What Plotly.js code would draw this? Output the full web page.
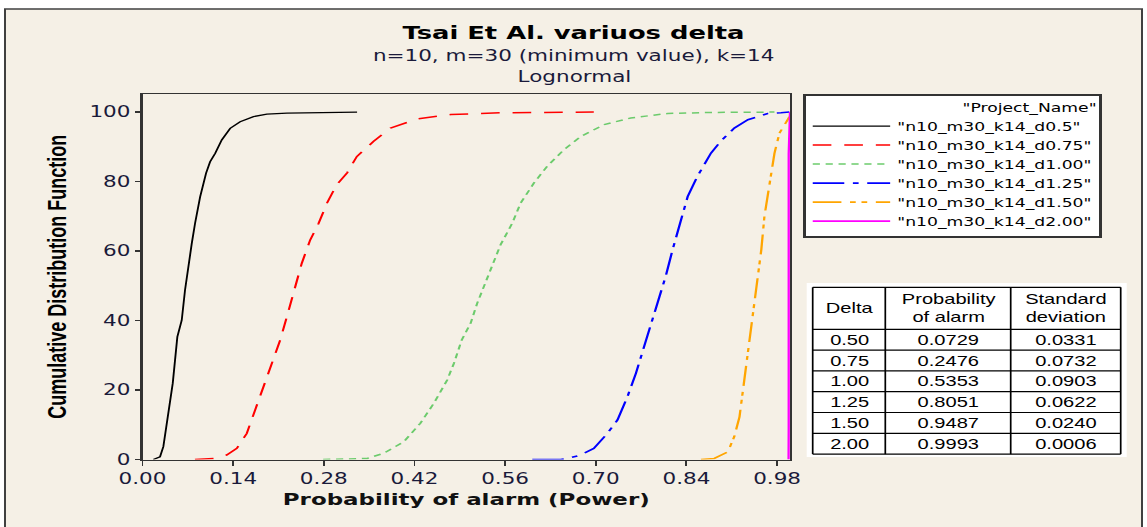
<!DOCTYPE html>
<html>
<head>
<meta charset="utf-8">
<script src="https://cdn.plot.ly/plotly-3.0.1.min.js"></script>
<style>
  html, body { margin: 0; padding: 0; background: #ffffff; overflow: hidden; }
  #wrap { width: 1147px; height: 527px; overflow: hidden; }
  #chart { width: 800px; height: 527px; transform: scaleX(1.43375); transform-origin: 0 0; }
</style>
</head>
<body>
<div id="wrap"><div id="chart"></div></div>
<script>
// ---- data ----
const seriesNames = ['"n10_m30_k14_d0.5"', '"n10_m30_k14_d0.75"', '"n10_m30_k14_d1.00"',
                     '"n10_m30_k14_d1.25"', '"n10_m30_k14_d1.50"', '"n10_m30_k14_d2.00"'];

const d050_x = [0.0167, 0.0271, 0.0322, 0.0399, 0.0467, 0.0538, 0.0606, 0.0657, 0.0709, 0.0761, 0.0812, 0.0890, 0.0982, 0.1044, 0.1121, 0.1225, 0.1354, 0.1508, 0.1714, 0.1921, 0.2231, 0.3314];
const d050_y = [0, 0.8, 3.7, 13.3, 21.9, 35.3, 40.1, 48.8, 56.5, 62.2, 68.0, 75.6, 82.4, 85.7, 88.1, 92.0, 95.3, 97.2, 98.7, 99.4, 99.7, 100];

const d075_x = [0.081, 0.1095, 0.130, 0.1457, 0.161, 0.174, 0.187, 0.200, 0.2127, 0.223, 0.236, 0.246, 0.259, 0.272, 0.285, 0.300, 0.316, 0.331, 0.357, 0.383, 0.424, 0.476, 0.553, 0.697];
const d075_y = [0, 0.3, 1.3, 3.2, 7.5, 14.3, 21.0, 27.7, 34.4, 41.1, 49.8, 56.5, 63.2, 68.0, 73.8, 79.1, 82.5, 87.2, 91.6, 95.4, 98.0, 99.3, 99.8, 100];

const d100_x = [0.279, 0.347, 0.3725, 0.4035, 0.429, 0.450, 0.4706, 0.481, 0.493, 0.5067, 0.517, 0.5325, 0.553, 0.571, 0.584, 0.6046, 0.625, 0.651, 0.677, 0.713, 0.754, 0.811, 0.883, 0.976];
const d100_y = [0, 0.3, 1.8, 5.1, 10.4, 16.2, 22.9, 27.7, 34.4, 39.2, 45.0, 52.0, 61.8, 68.0, 73.8, 79.6, 84.4, 89.2, 93.0, 96.4, 98.3, 99.6, 99.9, 100];

const d125_x = [0.602, 0.646, 0.656, 0.677, 0.697, 0.718, 0.7336, 0.749, 0.762, 0.775, 0.785, 0.7955, 0.808, 0.8187, 0.8316, 0.842, 0.857, 0.878, 0.893, 0.914, 0.935, 0.9656, 0.986, 0.999];
const d125_y = [0, 0, 0.3, 1.3, 3.2, 7.5, 11.4, 18.1, 24.8, 32.5, 39.2, 45.0, 52.7, 60.4, 69.0, 75.7, 81.5, 88.2, 91.6, 95.4, 97.8, 99.6, 99.8, 100];

const d150_x = [0.8625, 0.883, 0.904, 0.914, 0.922, 0.929, 0.935, 0.940, 0.945, 0.950, 0.9557, 0.9605, 0.9656, 0.971, 0.976, 0.9836, 0.994, 0.999];
const d150_y = [0, 0.3, 2.2, 6.6, 12.3, 21.9, 31.5, 37.3, 45.0, 51.7, 60.4, 70.0, 75.7, 82.4, 88.1, 93.9, 97.3, 98.6];

const d200_x = [0.9978, 0.998, 0.998, 1.0];
const d200_y = [0, 9, 88, 100];

// summary table
const tableDelta = [0.50, 0.75, 1.00, 1.25, 1.50, 2.00];
const tableProb  = [0.0729, 0.2476, 0.5353, 0.8051, 0.9487, 0.9993];
const tableSD    = [0.0331, 0.0732, 0.0903, 0.0622, 0.0240, 0.0006];
const tableHeader = ['Delta', 'Probability<br>of alarm', 'Standard<br>deviation'];

const xTicks = [0.00, 0.14, 0.28, 0.42, 0.56, 0.70, 0.84, 0.98];
const yTicks = [0, 20, 40, 60, 80, 100];

// ---- styling ----
const colors = ['#000000', '#FF0000', '#6CCB6C', '#0000FF', '#FFA500', '#FF00FF'];
const dashes = ['solid', '13px,9px', '5px,4px', '22px,6px,4px,6px', '20px,6px,4px,4px,4px,6px', 'solid'];
const widths = [1.3, 1.5, 1.5, 1.6, 1.6, 1.6];
const xs = [d050_x, d075_x, d100_x, d125_x, d150_x, d200_x];
const ys = [d050_y, d075_y, d100_y, d125_y, d150_y, d200_y];

const W = 1147, H = 527;
const px = v => v / W;          // horizontal pixel -> paper fraction
const py = v => 1 - v / H;      // vertical pixel -> paper fraction

const traces = xs.map((x, i) => ({
  type: 'scatter', mode: 'lines', name: seriesNames[i],
  x: x, y: ys[i],
  line: { color: colors[i], width: widths[i], dash: dashes[i] },
  hoverinfo: 'skip'
}));

// ---- summary table built from the arrays (grid shapes + text annotations) ----
const colEdges = [812.7, 885.3, 1010.7, 1120.7];
const rowEdges = [287.3, 329.3, 350.1, 370.9, 391.7, 412.5, 433.3, 454.1];
const tableFont = { family: 'Liberation Sans, Arial, sans-serif', size: 14, color: '#000' };
const tableShapes = [];
rowEdges.forEach(r => tableShapes.push({ type: 'line', xref: 'paper', yref: 'paper',
  x0: px(colEdges[0]), x1: px(colEdges[3]), y0: py(r), y1: py(r), line: { color: '#000', width: 1.2 } }));
colEdges.forEach(c => tableShapes.push({ type: 'line', xref: 'paper', yref: 'paper',
  x0: px(c), x1: px(c), y0: py(rowEdges[0]), y1: py(rowEdges[rowEdges.length - 1]), line: { color: '#000', width: 1.2 } }));
const colCenters = [0, 1, 2].map(i => px((colEdges[i] + colEdges[i + 1]) / 2));
const tableAnn = [];
tableHeader.forEach((t, i) => tableAnn.push({ text: t, xref: 'paper', yref: 'paper',
  x: colCenters[i], y: py((rowEdges[0] + rowEdges[1]) / 2), xanchor: 'center', yanchor: 'middle',
  align: 'center', showarrow: false, font: tableFont }));
const tableCols = [tableDelta.map(v => v.toFixed(2)), tableProb.map(v => v.toFixed(4)), tableSD.map(v => v.toFixed(4))];
tableCols.forEach((col, i) => col.forEach((t, j) => tableAnn.push({ text: t, xref: 'paper', yref: 'paper',
  x: colCenters[i], y: py((rowEdges[j + 1] + rowEdges[j + 2]) / 2), xanchor: 'center', yanchor: 'middle',
  showarrow: false, font: tableFont })));

const tickFont = { family: 'DejaVu Sans, Verdana, sans-serif', size: 15, color: '#1a1a3a' };

const layout = {
  width: 800, height: 527,
  margin: { l: 0, r: 0, t: 0, b: 0 },
  paper_bgcolor: '#ffffff',
  plot_bgcolor: '#ffffff',
  showlegend: true,
  title: {
    text: '<b>Tsai Et Al. variuos delta</b>',
    font: { family: 'DejaVu Sans, Verdana, sans-serif', size: 18, color: '#000' },
    x: 0.5, xref: 'paper', xanchor: 'center',
    y: py(33), yref: 'paper', yanchor: 'middle'
  },
  annotations: [
    { text: 'n=10, m=30 (minimum value), k=14', xref: 'paper', yref: 'paper',
      x: 0.5, y: py(56), xanchor: 'center', yanchor: 'middle', showarrow: false,
      font: { family: 'DejaVu Sans, Verdana, sans-serif', size: 15, color: '#1a1a3a' } },
    { text: 'Lognormal', xref: 'paper', yref: 'paper',
      x: 0.5, y: py(77), xanchor: 'center', yanchor: 'middle', showarrow: false,
      font: { family: 'DejaVu Sans, Verdana, sans-serif', size: 15, color: '#1a1a3a' } }
  ].concat(tableAnn),
  shapes: [
    { type: 'rect', xref: 'paper', yref: 'paper', layer: 'below',
      x0: px(5), x1: px(1142), y0: -0.05, y1: py(9),
      fillcolor: '#F5F0E6', line: { color: '#404040', width: 1.4 } },
    { type: 'rect', xref: 'paper', yref: 'paper', layer: 'below',
      x0: px(806.7), x1: px(1126.7), y0: py(457), y1: py(283),
      fillcolor: '#ffffff', line: { width: 0 } }
  ].concat(tableShapes),
  xaxis: {
    domain: [px(142.5), px(790)],
    range: [0, 1.0], autorange: false,
    tickvals: xTicks, tickformat: '.2f',
    ticks: 'outside', ticklen: 5, tickwidth: 1.3, tickcolor: '#333',
    showline: true, linecolor: '#333', linewidth: 1.4, mirror: true,
    showgrid: false, zeroline: false,
    tickfont: tickFont,
    title: { text: 'Probability of alarm (Power)', standoff: 7,
             font: { family: 'DejaVu Sans, Verdana, sans-serif', size: 16, color: '#111', weight: 'bold' } },
    automargin: false
  },
  yaxis: {
    domain: [py(459.5), py(94)],
    range: [0, 105.2], autorange: false,
    tickvals: yTicks,
    ticks: 'outside', ticklen: 4, tickwidth: 1.3, tickcolor: '#333',
    showline: true, linecolor: '#333', linewidth: 1.4, mirror: true,
    showgrid: false, zeroline: false,
    tickfont: tickFont,
    title: { text: 'Cumulative Distribution Function', standoff: 11,
             font: { family: 'Liberation Sans, Arial, sans-serif', size: 18, color: '#000', weight: 'bold' } },
    automargin: false
  },
  legend: {
    x: px(802.7), y: py(94), xanchor: 'left', yanchor: 'top',
    xref: 'paper', yref: 'paper',
    bgcolor: '#ffffff', bordercolor: '#333', borderwidth: 2,
    font: { family: 'DejaVu Sans, Verdana, sans-serif', size: 12, color: '#000' },
    itemwidth: 54,
    title: { text: '"Project_Name"', side: 'top right',
             font: { family: 'DejaVu Sans, Verdana, sans-serif', size: 12, color: '#000' } },
    tracegroupgap: 0
  }
};

Plotly.newPlot('chart', traces, layout, { displayModeBar: false, staticPlot: true });
</script>
</body>
</html>
